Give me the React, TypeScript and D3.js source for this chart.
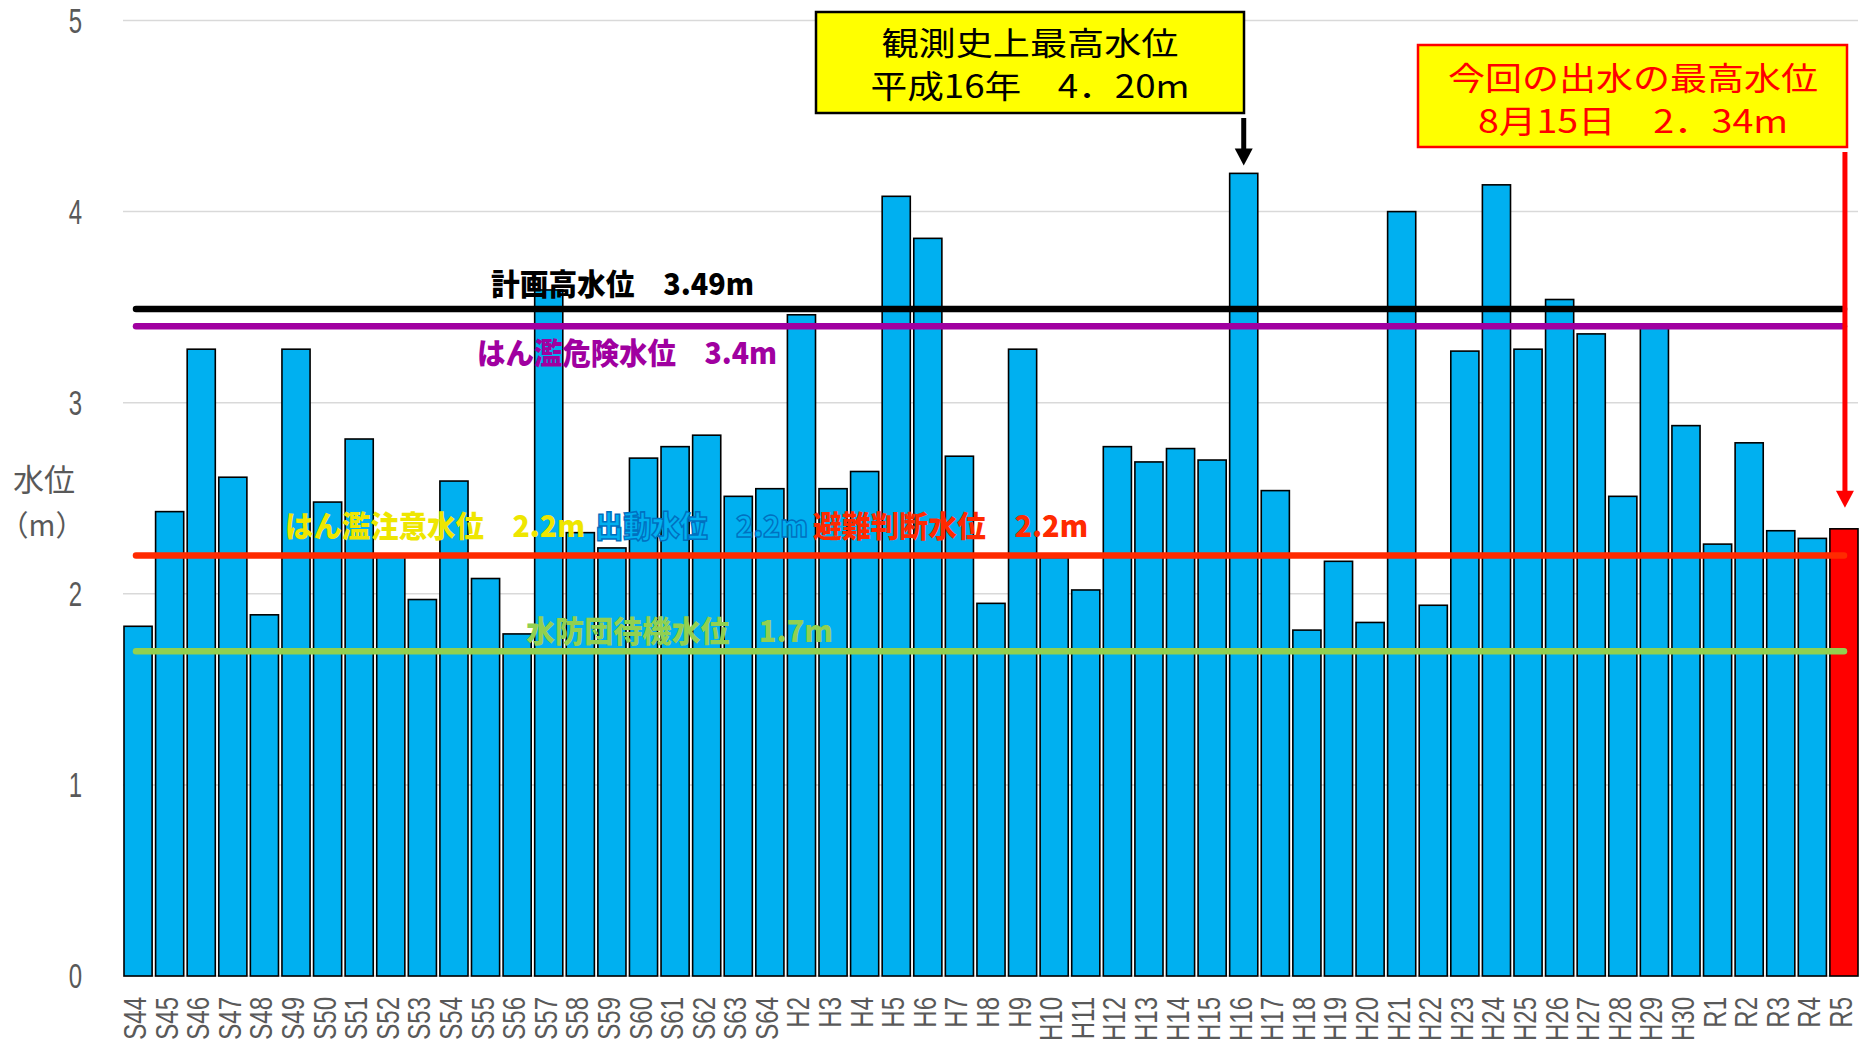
import React, { useEffect, useRef } from "react";
import * as d3 from "d3";

// 年ごとの最高水位 (m)
const years = [
  "S44", "S45", "S46", "S47", "S48", "S49", "S50", "S51", "S52", "S53", "S54",
  "S55", "S56", "S57", "S58", "S59", "S60", "S61", "S62", "S63", "S64",
  "H2", "H3", "H4", "H5", "H6", "H7", "H8", "H9", "H10", "H11", "H12", "H13",
  "H14", "H15", "H16", "H17", "H18", "H19", "H20", "H21", "H22", "H23", "H24",
  "H25", "H26", "H27", "H28", "H29", "H30", "R1", "R2", "R3", "R4", "R5",
];
const levels = [
  1.83, 2.43, 3.28, 2.61, 1.89, 3.28, 2.48, 2.81, 2.2, 1.97, 2.59,
  2.08, 1.79, 3.59, 2.32, 2.24, 2.71, 2.77, 2.83, 2.51, 2.55,
  3.46, 2.55, 2.64, 4.08, 3.86, 2.72, 1.95, 3.28, 2.19, 2.02, 2.77, 2.69,
  2.76, 2.7, 4.2, 2.54, 1.81, 2.17, 1.85, 4.0, 1.94, 3.27, 4.14,
  3.28, 3.54, 3.36, 2.51, 3.41, 2.88, 2.26, 2.79, 2.33, 2.29, 2.34,
];
const yTicks = [0, 1, 2, 3, 4, 5];

// 基準水位
const refValues = [3.49, 3.4, 2.2, 1.7];
const refColors = ["#000000", "#A000A0", "#FF2A00", "#92D050"];

const levelLabels = [
  "計画高水位　3.49m",
  "はん濫危険水位　3.4m",
  "はん濫注意水位　2.2m",
  "出動水位　2.2m",
  "避難判断水位　2.2m",
  "水防団待機水位　1.7m",
];
const labelValues = [3.49, 3.4, 2.2, 2.2, 2.2, 1.7];

const maxNote = ["観測史上最高水位", "平成16年　4．20m"];
const maxYear = "H16";
const nowNote = ["今回の出水の最高水位", "8月15日　2．34m"];
const nowYear = "R5";

export default function App() {
  const ref = useRef<SVGSVGElement>(null);

  useEffect(() => {
    var svg = d3.select(ref.current);
    svg.selectAll("*").remove();

    var left = 124, right = 1858, top = 20.5, bottom = 976;
    var sans = "'Liberation Sans', Arial, sans-serif";
    var jp = "'Noto Sans CJK JP', sans-serif";

    var x = d3.scaleBand().domain(years).range([left, right]).paddingInner(0.11).paddingOuter(0);
    var y = d3.scaleLinear().domain([0, 5]).range([bottom, top]);
    var bw = x.bandwidth();

    // grid
    svg.append("g")
      .selectAll("line")
      .data(yTicks)
      .join("line")
      .attr("x1", 123)
      .attr("x2", right)
      .attr("y1", (d) => y(d))
      .attr("y2", (d) => y(d))
      .attr("stroke", "#D9D9D9")
      .attr("stroke-width", 1.5);

    // y tick labels (tall, narrow digits)
    svg.append("g")
      .selectAll("text")
      .data(yTicks)
      .join("text")
      .attr("transform", (d) => `translate(82,${y(d) + 12}) scale(1,1.45)`)
      .attr("text-anchor", "end")
      .style("font-family", sans)
      .style("font-size", "24px")
      .style("fill", "#595959")
      .text((d) => d);

    // y title
    svg.append("text")
      .attr("x", 44).attr("y", 491)
      .attr("text-anchor", "middle")
      .style("font-family", jp)
      .style("font-size", "31px")
      .style("fill", "#595959")
      .text("水位");
    svg.append("text")
      .attr("x", 42).attr("y", 536)
      .attr("text-anchor", "middle")
      .style("font-family", jp)
      .style("font-size", "29px")
      .style("fill", "#595959")
      .text("（m）");

    // bars
    svg.append("g")
      .selectAll("rect")
      .data(years)
      .join("rect")
      .attr("x", (d) => x(d)!)
      .attr("y", (d, i) => y(levels[i]))
      .attr("width", bw)
      .attr("height", (d, i) => bottom - y(levels[i]))
      .attr("fill", (d) => (d === nowYear ? "#FF0000" : "#00B0F0"))
      .attr("stroke", "#000")
      .attr("stroke-width", 1.6);

    // x labels, rotated and stretched like the original narrow font
    svg.append("g")
      .selectAll("text")
      .data(years)
      .join("text")
      .attr("transform", (d) => `translate(${x(d)! + bw / 2 + 8},997) rotate(-90) scale(1,1.3)`)
      .attr("text-anchor", "end")
      .style("font-family", sans)
      .style("font-size", "24px")
      .style("fill", "#595959")
      .text((d) => d);

    // reference lines
    svg.append("g")
      .selectAll("line")
      .data(refValues)
      .join("line")
      .attr("x1", 136)
      .attr("x2", 1844)
      .attr("y1", (d) => y(d))
      .attr("y2", (d) => y(d))
      .attr("stroke", (d, i) => refColors[i])
      .attr("stroke-width", 6.5)
      .attr("stroke-linecap", "round");

    // reference labels
    var labelX = [491, 477, 285, 595, 813, 526];
    var labelDy = [-14, 38, -19, -19, -19, -9];
    var labelW = [263, 300, 300, 213, 275, 307];
    var labelFill = ["#000000", "#A000A0", "#EEE600", "#00B0F0", "#FF2A00", "#92D050"];
    svg.append("g")
      .selectAll("text")
      .data(levelLabels)
      .join("text")
      .attr("x", (d, i) => labelX[i])
      .attr("y", (d, i) => y(labelValues[i]) + labelDy[i])
      .attr("textLength", (d, i) => labelW[i])
      .attr("lengthAdjust", "spacingAndGlyphs")
      .style("font-family", jp)
      .style("font-weight", 900)
      .style("font-size", "30px")
      .style("fill", (d, i) => labelFill[i])
      .style("stroke", (d, i) => (i === 3 ? "#0070C0" : "none"))
      .style("stroke-width", 1.5)
      .text((d) => d);

    // 観測史上最高 box
    svg.append("rect")
      .attr("x", 816).attr("y", 12).attr("width", 428).attr("height", 101)
      .attr("fill", "#FFFF00").attr("stroke", "#000").attr("stroke-width", 2.5);
    svg.append("g")
      .selectAll("text")
      .data(maxNote)
      .join("text")
      .attr("x", 1030)
      .attr("y", (d, i) => 55 + i * 43)
      .attr("text-anchor", "middle")
      .attr("textLength", (d, i) => [297, 319][i])
      .attr("lengthAdjust", "spacingAndGlyphs")
      .style("font-family", jp)
      .style("font-size", "32px")
      .style("fill", "#000")
      .text((d) => d);

    // 今回 box
    svg.append("rect")
      .attr("x", 1418).attr("y", 45).attr("width", 429).attr("height", 102)
      .attr("fill", "#FFFF00").attr("stroke", "#FF0000").attr("stroke-width", 2.5);
    svg.append("g")
      .selectAll("text")
      .data(nowNote)
      .join("text")
      .attr("x", 1633)
      .attr("y", (d, i) => 90 + i * 43)
      .attr("text-anchor", "middle")
      .attr("textLength", (d, i) => [370, 310][i])
      .attr("lengthAdjust", "spacingAndGlyphs")
      .style("font-family", jp)
      .style("font-size", "32px")
      .style("fill", "#FF0000")
      .text((d) => d);

    // arrows
    var arrow = (cx: number, y0: number, tip: number, color: string) => {
      svg.append("line")
        .attr("x1", cx).attr("x2", cx)
        .attr("y1", y0).attr("y2", tip - 12)
        .attr("stroke", color).attr("stroke-width", 5);
      svg.append("path")
        .attr("d", `M${cx - 9},${tip - 17}L${cx + 9},${tip - 17}L${cx},${tip}Z`)
        .attr("fill", color);
    };
    var hi = levels[years.indexOf(maxYear)];
    arrow(x(maxYear)! + bw / 2, 118, y(hi) - 8, "#000");
    var now = levels[years.indexOf(nowYear)];
    arrow(x(nowYear)! + bw / 2 + 1, 152, y(now) - 21, "#FF0000");
  }, []);

  return (
    <svg
      ref={ref}
      width={1874}
      height={1045}
      style={{ position: "absolute", left: 0, top: 0, background: "#fff" }}
    />
  );
}
